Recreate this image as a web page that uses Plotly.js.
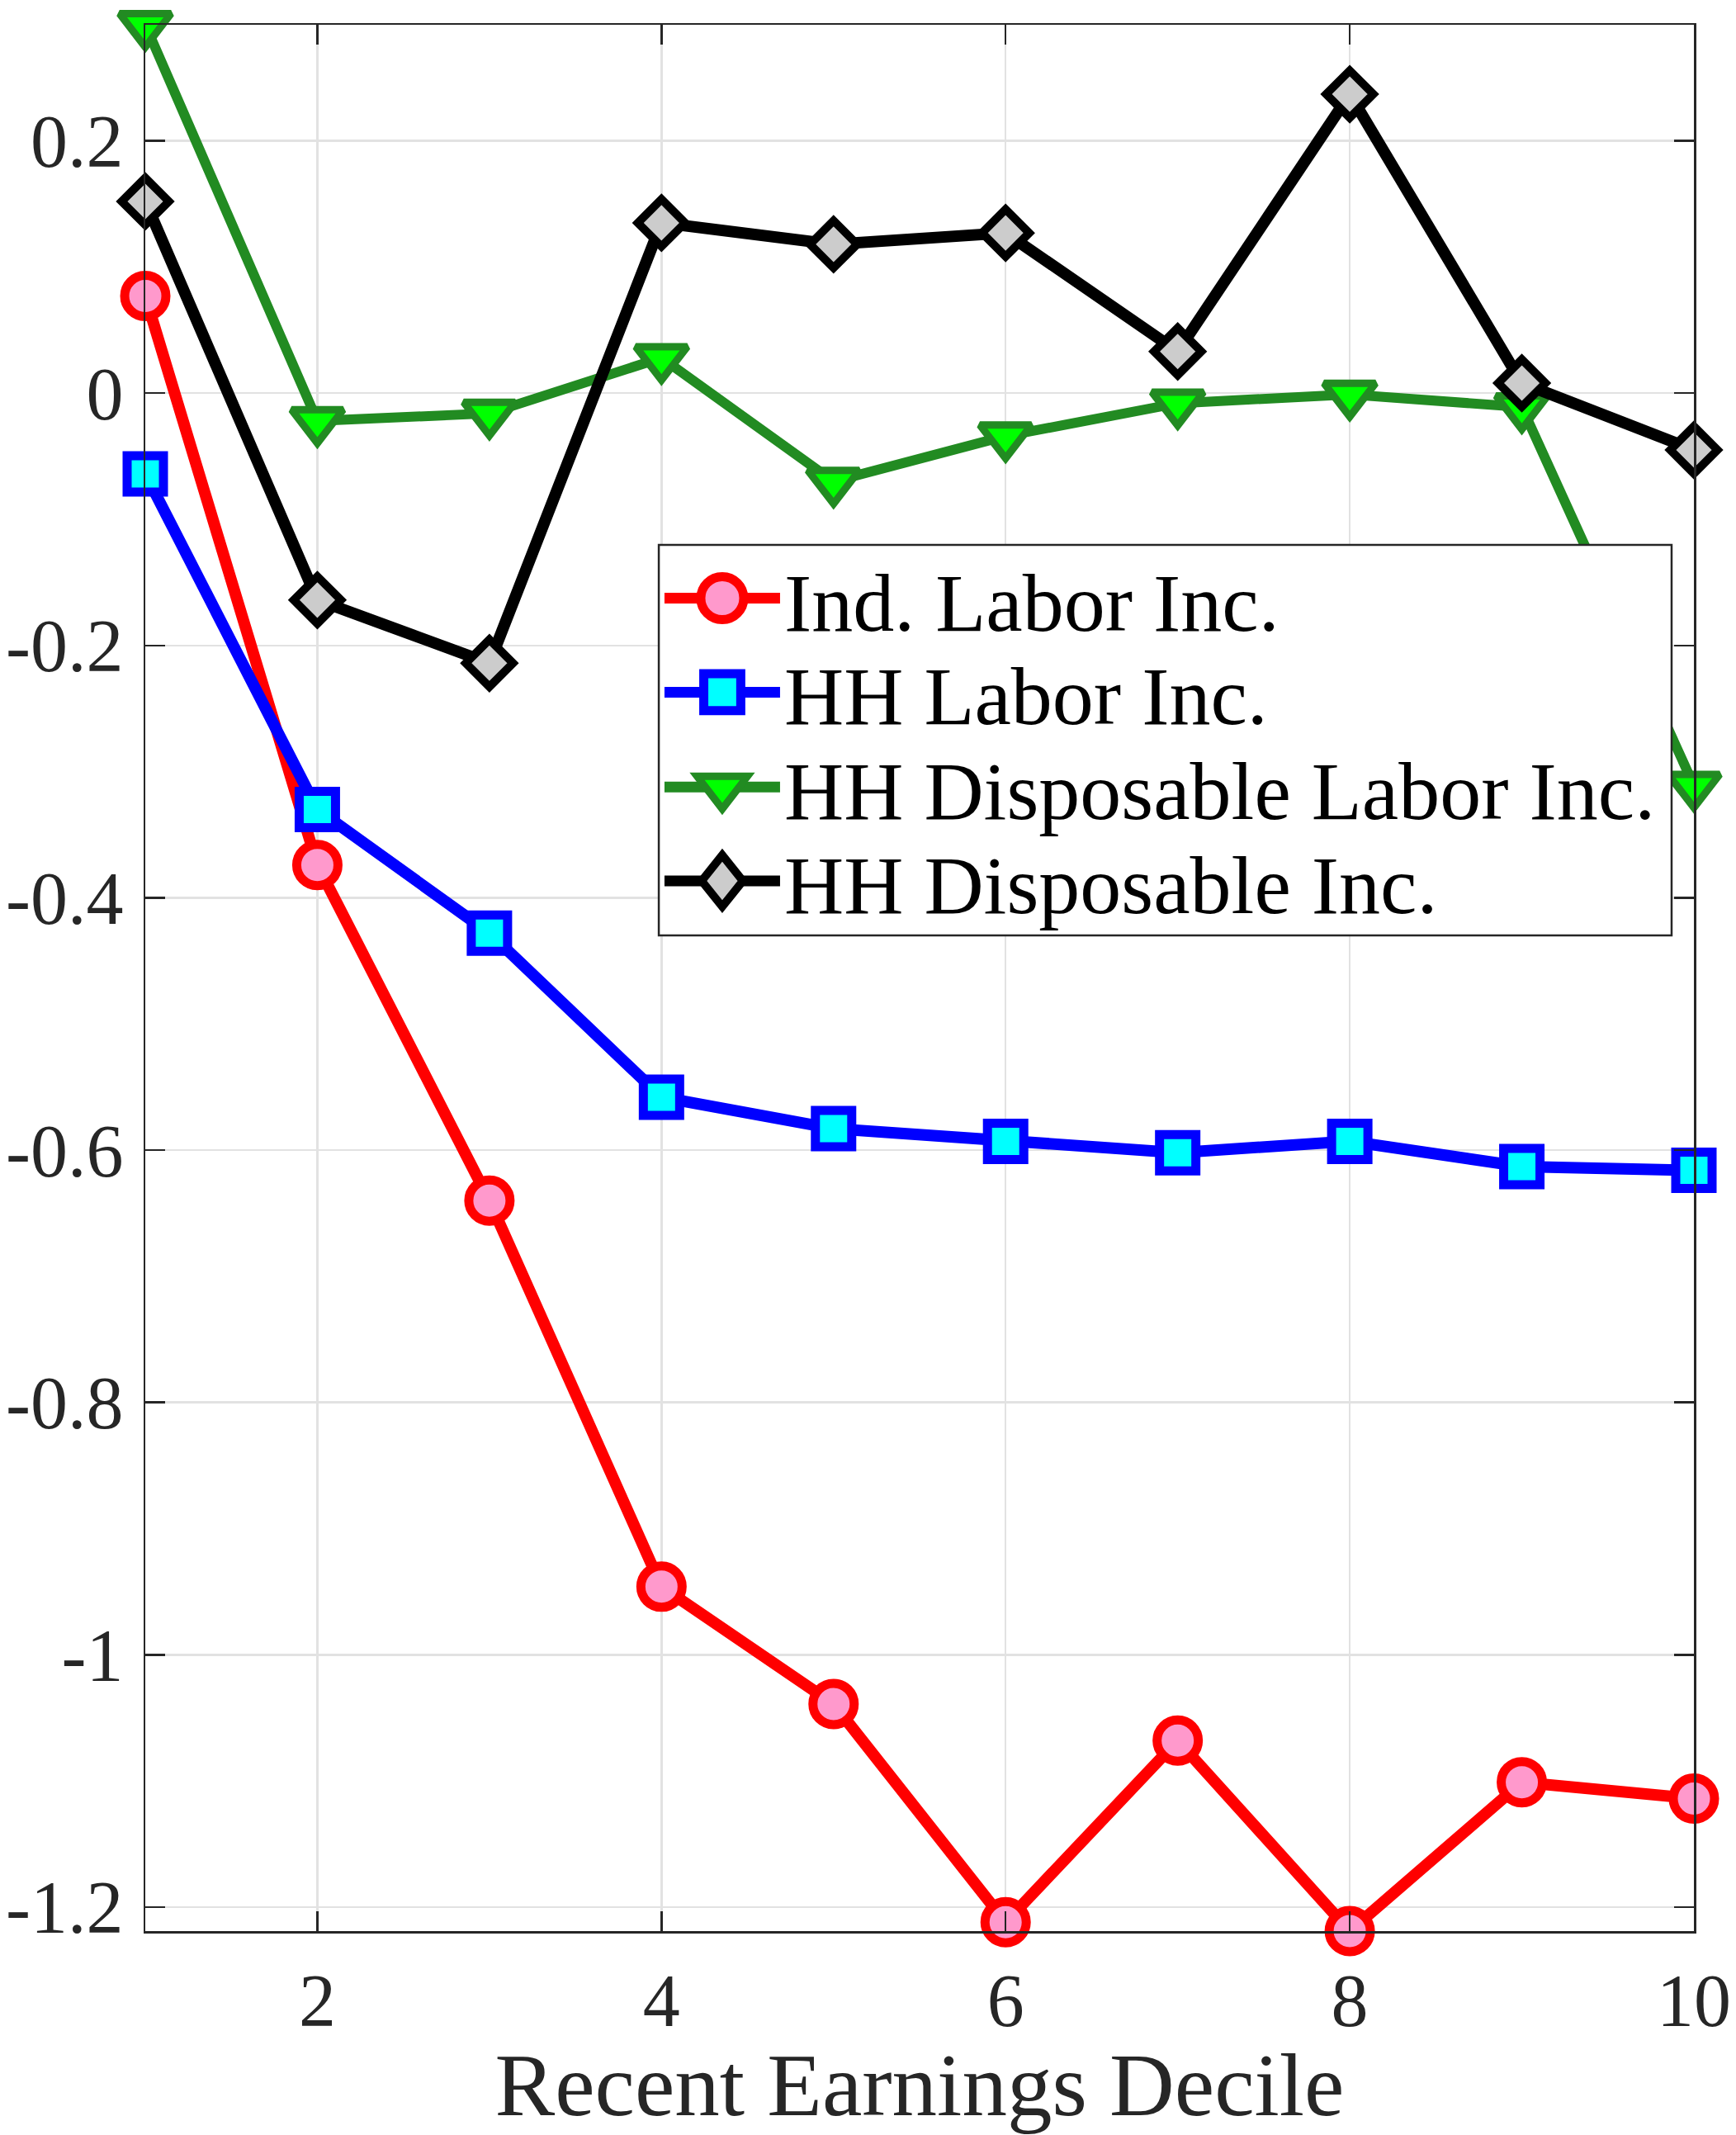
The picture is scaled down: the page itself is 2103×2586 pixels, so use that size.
<!DOCTYPE html>
<html>
<head>
<meta charset="utf-8">
<script src="https://cdn.plot.ly/plotly-3.0.1.min.js"></script>
<style>html,body{margin:0;padding:0;background:#fff;}</style>
</head>
<body>
<div id="chart" style="width:2103px;height:2586px;"></div>
<script>
// ---- data ----
const deciles = [1, 2, 3, 4, 5, 6, 7, 8, 9, 10];
const indLaborInc = [0.077, -0.374, -0.640, -0.946, -1.039, -1.212, -1.068, -1.219, -1.101, -1.114];
const hhLaborInc = [-0.064, -0.330, -0.428, -0.558, -0.583, -0.593, -0.602, -0.593, -0.613, -0.616];
const hhDispLaborInc = [0.292, -0.022, -0.016, 0.028, -0.070, -0.034, -0.008, -0.001, -0.011, -0.311];
const hhDispInc = [0.152, -0.164, -0.214, 0.135, 0.118, 0.127, 0.033, 0.237, 0.008, -0.045];
const seriesNames = ['Ind. Labor Inc.', 'HH Labor Inc.', 'HH Disposable Labor Inc.', 'HH Disposable Inc.'];
const xTickVals = [2, 4, 6, 8, 10];
const xTickText = ['2', '4', '6', '8', '10'];
const yTickVals = [-1.2, -1.0, -0.8, -0.6, -0.4, -0.2, 0, 0.2];
const yTickText = ['-1.2', '-1', '-0.8', '-0.6', '-0.4', '-0.2', '0', '0.2'];
const xLabel = 'Recent Earnings Decile';

const FONT = '"Liberation Serif", "Times New Roman", Times, serif';
const TXT = '#262626';

const allY = [].concat(indLaborInc, hhLaborInc, hhDispLaborInc, hhDispInc);
const yMin = Math.min.apply(null, allY);
const yMax = Math.max.apply(null, allY);

const legendIds = ['legend', 'legend2', 'legend3', 'legend4'];

function mk(y, i, lc, lw, sym, fill, size, mlw) {
  return {
    x: deciles, y: y, name: seriesNames[i], legend: legendIds[i],
    type: 'scatter', mode: 'lines+markers', cliponaxis: false,
    line: {color: lc, width: lw},
    marker: {symbol: sym, color: fill, size: size, line: {color: lc, width: mlw}}
  };
}

const traces = [
  mk(indLaborInc, 0, '#ff0000', 14, 'circle', '#ff99cc', 50, 11),
  mk(hhLaborInc, 1, '#0000ff', 14, 'square', '#00ffff', 44, 11),
  mk(hhDispLaborInc, 2, '#228b22', 12, 'triangle-down', '#00ff00', 54, 9),
  mk(hhDispInc, 3, '#000000', 14, 'diamond', '#cccccc', 44, 10)
];

const axisCommon = {
  showline: true, linecolor: TXT, linewidth: 2.5, mirror: 'ticks',
  ticks: 'inside', ticklen: 24, tickwidth: 2.5, tickcolor: TXT,
  showgrid: true, gridcolor: '#e2e2e2', gridwidth: 2.5,
  zeroline: false,
  tickfont: {family: FONT, size: 90, color: TXT}
};

// legend box layout (plot-area fractions)
const legLeft = 0.3326;
const legendRows = [0.6992, 0.6499, 0.6001, 0.5509];
function legendCfg(yc) {
  return {
    x: legLeft, y: yc, xanchor: 'left', yanchor: 'middle',
    bgcolor: 'rgba(0,0,0,0)', borderwidth: 0,
    font: {family: FONT, size: 100, color: '#000000'},
    itemwidth: 140
  };
}

const layout = {
  width: 2103, height: 2586,
  margin: {l: 176, r: 51, t: 30, b: 247, pad: 0},
  paper_bgcolor: '#ffffff', plot_bgcolor: '#ffffff',
  font: {family: FONT, color: TXT},
  showlegend: true,
  xaxis: Object.assign({}, axisCommon, {
    range: [1, 10], tickmode: 'array', tickvals: xTickVals, ticktext: xTickText,
    ticklabelstandoff: 4,
    title: {text: xLabel, font: {family: FONT, size: 109, color: TXT}, standoff: 20}
  }),
  yaxis: Object.assign({}, axisCommon, {
    range: [yMin, yMax], tickmode: 'array', tickvals: yTickVals, ticktext: yTickText,
    ticklabelstandoff: 6
  }),
  legend: legendCfg(legendRows[0]),
  legend2: legendCfg(legendRows[1]),
  legend3: legendCfg(legendRows[2]),
  legend4: legendCfg(legendRows[3]),
  shapes: [{
    type: 'rect', xref: 'paper', yref: 'paper', layer: 'above',
    x0: 0.3316, x1: 0.9856, y0: 0.5223, y1: 0.7272,
    fillcolor: '#ffffff', line: {color: TXT, width: 2.5}
  }]
};

// enlarge legend symbols (Plotly caps them) to match the reference look
const legendSymbolScale = [[3.25, 3.25], [2.8, 2.8], [3.3, 3.3], [2.4, 3.0]];
const legendSymbolStroke = [11, 11, 9, 10];

Plotly.newPlot('chart', traces, layout, {displayModeBar: false, staticPlot: true}).then(function (gd) {
  legendIds.forEach(function (id, i) {
    const leg = gd.querySelector('.infolayer .' + id);
    if (!leg) return;
    leg.querySelectorAll('.legendlines path').forEach(function (p) {
      p.style.strokeWidth = '13px';
    });
    leg.querySelectorAll('.legendpoints path').forEach(function (p) {
      const k = legendSymbolScale[i];
      const t = p.getAttribute('transform') || '';
      p.setAttribute('transform', t + ' scale(' + k[0] + ',' + k[1] + ')');
      p.style.strokeWidth = (legendSymbolStroke[i] / Math.sqrt(k[0] * k[1])) + 'px';
    });
  });
});
</script>
</body>
</html>
